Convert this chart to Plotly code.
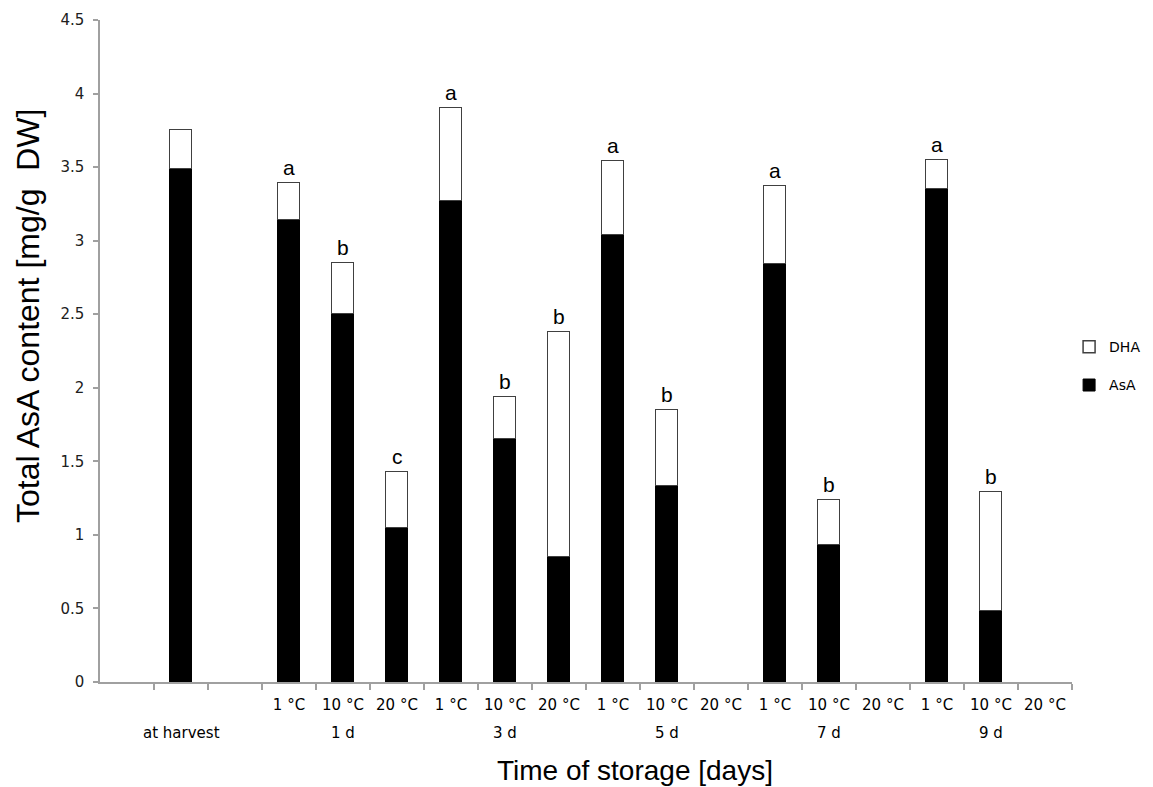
import plotly.graph_objects as go

# ---- data ----
groups = ["at harvest", "1 d", "3 d", "5 d", "7 d", "9 d"]
temps = ["1 °C", "10 °C", "20 °C"]
# one entry per bar position: at harvest, then 1d..9d x (1,10,20 °C); None = no bar
asa = [3.49, 3.14, 2.50, 1.05, 3.27, 1.65, 0.85, 3.04, 1.33, None, 2.84, 0.93, None, 3.35, 0.48, None]
dha = [0.26, 0.25, 0.35, 0.38, 0.63, 0.29, 1.53, 0.50, 0.52, None, 0.53, 0.31, None, 0.20, 0.81, None]
letters = ["", "a", "b", "c", "a", "b", "b", "a", "b", "", "a", "b", "", "a", "b", ""]

# ---- slot layout (18 slots, first & third empty) ----
slots = [1] + [3 + i for i in range(15)]
xc = [s + 0.5 for s in slots]

fig = go.Figure()
fig.add_trace(go.Bar(x=xc, y=asa, name="AsA", width=0.42,
                     marker=dict(color="black", line=dict(color="black", width=1)),
                     legendgroup="asa", legendrank=2))
fig.add_trace(go.Bar(x=xc, y=dha, name="DHA", width=0.42,
                     marker=dict(color="white", line=dict(color="#404040", width=1.5)),
                     legendgroup="dha", legendrank=1))

annotations = []
for x, a, d, t in zip(xc, asa, dha, letters):
    if t and a is not None:
        annotations.append(dict(x=x, y=a + d, xref="x", yref="y", text=t, showarrow=False,
                                yanchor="bottom", yshift=2,
                                font=dict(family="Liberation Sans, Arial", size=21, color="black")))

temp_x = [s + 0.5 for s in range(3, 18)]
temp_text = [temps[i % 3] for i in range(15)]
group_x = [1.5] + [3 + 3 * g + 1.5 for g in range(5)]
for gx, gname in zip(group_x, groups):
    annotations.append(dict(x=gx, y=-0.077, xref="x", yref="paper", text=gname, showarrow=False,
                            yanchor="middle",
                            font=dict(family="DejaVu Sans, Verdana", size=15, color="black")))

# axis titles
annotations.append(dict(x=-0.074, y=0.553, xref="paper", yref="paper",
                        text="Total AsA content [mg/g\u00a0 DW]", textangle=-90, showarrow=False,
                        xanchor="center", yanchor="middle",
                        font=dict(family="Liberation Sans, Arial", size=32, color="black")))
annotations.append(dict(x=0.5504, y=-0.133, xref="paper", yref="paper",
                        text="Time of storage [days]", showarrow=False,
                        xanchor="center", yanchor="middle",
                        font=dict(family="Liberation Sans, Arial", size=28, color="black")))

fig.update_layout(
    barmode="stack",
    width=1145, height=779,
    margin=dict(l=92, r=81, t=12, b=105, autoexpand=False),
    plot_bgcolor="white", paper_bgcolor="white",
    showlegend=True,
    legend=dict(x=0.997, xanchor="left", y=0.477, yanchor="middle",
                traceorder="grouped", tracegroupgap=17,
                font=dict(family="DejaVu Sans, Verdana", size=14, color="black"),
                itemwidth=30),
    annotations=annotations,
    bargap=0,
)
fig.update_xaxes(
    range=[0, 18], showgrid=False, zeroline=False, automargin=False,
    showline=True, linecolor="#a0a0a0", linewidth=1.5,
    tickmode="array", tickvals=temp_x, ticktext=temp_text, ticks="",
    ticklabelstandoff=8,
    tickfont=dict(family="DejaVu Sans, Verdana", size=15, color="black"),
    minor=dict(tickmode="array", tickvals=list(range(1, 19)), ticks="outside",
               ticklen=6, tickwidth=1.5, tickcolor="#a0a0a0", showgrid=False),
)
fig.update_yaxes(
    range=[0, 4.5], dtick=0.5, showgrid=False, zeroline=False, automargin=False,
    showline=True, linecolor="#a0a0a0", linewidth=1.5,
    ticks="outside", ticklen=5, tickwidth=1.5, tickcolor="#a0a0a0",
    ticklabelstandoff=6,
    tickfont=dict(family="DejaVu Sans, Verdana", size=15, color="#202020"),
)

fig.write_html("out.html")
